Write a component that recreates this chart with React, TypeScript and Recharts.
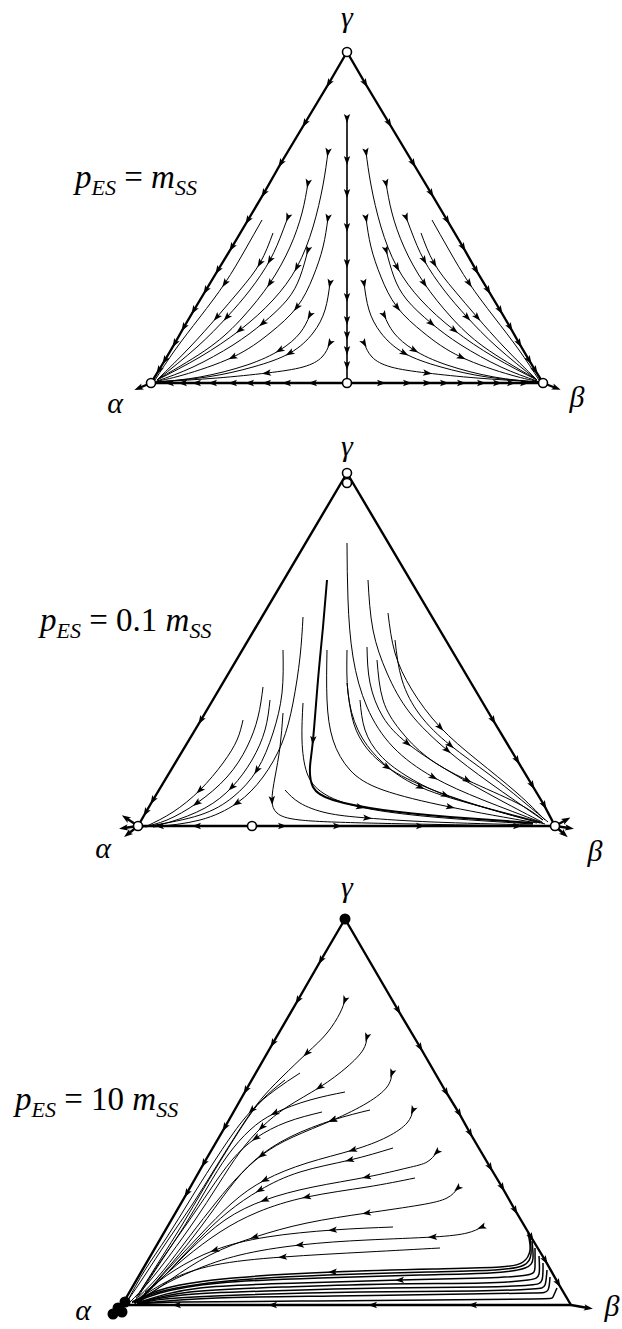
import { ComposedChart, Line, Scatter, XAxis, YAxis } from 'recharts'

type Pt = [number, number]
type Stream = { pts: Pt[]; ar: number[] }

const W = 622
const H = 1329

// ---- panel 1: p_ES = m_SS ----
const p1Edges: Stream[] = [
  { pts: [[347, 52], [329, 83], [305, 123], [281, 163], [264, 193], [248, 220], [232, 247], [218, 270], [206, 290], [194, 310], [184, 327], [175, 343], [165, 360], [159, 370], [151, 383]], ar: [1, 2, 3, 4, 5, 6, 7, 8, 9, 10, 11, 12, 13] },
  { pts: [[347, 52], [365, 83], [389, 123], [413, 163], [431, 193], [447, 220], [463, 247], [476, 270], [488, 290], [500, 310], [510, 327], [519, 343], [529, 360], [535, 370], [543, 383]], ar: [1, 2, 3, 4, 5, 6, 7, 8, 9, 10, 11, 12, 13] },
  { pts: [[347, 383], [313, 383], [287, 383], [267, 383], [250, 383], [233, 383], [213, 383], [197, 383], [183, 383], [170, 383], [151, 383]], ar: [1, 2, 3, 4, 5, 6, 7, 8, 9] },
  { pts: [[347, 383], [381, 383], [407, 383], [427, 383], [444, 383], [461, 383], [481, 383], [497, 383], [511, 383], [524, 383], [543, 383]], ar: [1, 2, 3, 4, 5, 6, 7, 8, 9] },
  { pts: [[151, 383], [139, 388]], ar: [1] },
  { pts: [[543, 383], [556, 388]], ar: [1] },
]

const p1Center: Stream[] = [
  { pts: [[347, 118], [347, 160], [347, 193], [347, 227], [347, 263], [347, 297], [347, 320], [347, 335], [347, 350], [347, 365], [347, 383]], ar: [0, 1, 2, 3, 4, 5, 6, 7, 8, 9] },
]

const p1Left: Stream[] = [
  { pts: [[328, 152], [323, 185], [313, 227], [297, 267], [273, 300], [240, 330], [200, 357], [157, 380]], ar: [0, 3, 5] },
  { pts: [[308, 183], [302, 213], [290, 247], [270, 283], [243, 317], [210, 347], [160, 378]], ar: [0, 3] },
  { pts: [[288, 217], [282, 233], [270, 260], [250, 290], [227, 317], [197, 347], [157, 380]], ar: [0, 2, 4] },
  { pts: [[328, 218], [323, 247], [313, 277], [297, 307], [270, 333], [233, 357], [183, 375], [153, 382]], ar: [0, 3, 5] },
  { pts: [[308, 250], [300, 277], [287, 300], [263, 323], [233, 345], [193, 367], [157, 381]], ar: [0, 3] },
  { pts: [[330, 283], [325, 310], [313, 333], [290, 353], [253, 367], [207, 377], [155, 382]], ar: [0, 3] },
  { pts: [[310, 315], [300, 333], [280, 350], [247, 365], [200, 377], [157, 382]], ar: [0, 2] },
  { pts: [[330, 343], [322, 357], [303, 367], [267, 373], [217, 378], [157, 382]], ar: [0, 3] },
  { pts: [[273, 233], [260, 263], [240, 290], [217, 317], [190, 347], [157, 380]], ar: [1, 3] },
  { pts: [[262, 220], [245, 250], [225, 283], [200, 317], [175, 350], [155, 380]], ar: [2] },
]

const p1Right: Stream[] = [
  { pts: [[366, 152], [371, 185], [381, 227], [397, 267], [421, 300], [454, 330], [494, 357], [537, 380]], ar: [0, 3, 5] },
  { pts: [[386, 183], [392, 213], [404, 247], [424, 283], [451, 317], [484, 347], [534, 378]], ar: [0, 3] },
  { pts: [[406, 217], [412, 233], [424, 260], [444, 290], [467, 317], [497, 347], [537, 380]], ar: [0, 2, 4] },
  { pts: [[366, 218], [371, 247], [381, 277], [397, 307], [424, 333], [461, 357], [511, 375], [541, 382]], ar: [0, 3, 5] },
  { pts: [[386, 250], [394, 277], [407, 300], [431, 323], [461, 345], [501, 367], [537, 381]], ar: [0, 3] },
  { pts: [[364, 283], [369, 310], [381, 333], [404, 353], [441, 367], [487, 377], [539, 382]], ar: [0, 3] },
  { pts: [[384, 315], [394, 333], [414, 350], [447, 365], [494, 377], [537, 382]], ar: [0, 2] },
  { pts: [[364, 343], [372, 357], [391, 367], [427, 373], [477, 378], [537, 382]], ar: [0, 3] },
  { pts: [[421, 233], [434, 263], [454, 290], [477, 317], [504, 347], [537, 380]], ar: [1, 3] },
  { pts: [[432, 220], [449, 250], [469, 283], [494, 317], [519, 350], [539, 380]], ar: [2] },
]

const p1Saddles: Pt[] = [[347, 52], [151, 383], [543, 383], [347, 383]]

// ---- panel 2: p_ES = 0.1 m_SS ----
const p2Edges: Stream[] = [
  { pts: [[347, 473], [201, 720], [153, 800], [146, 812], [138, 826]], ar: [1, 2, 3] },
  { pts: [[347, 473], [493, 720], [517, 760], [532, 785], [544, 805], [555, 826]], ar: [1, 2, 3, 4] },
  { pts: [[252, 826], [197, 826], [160, 826], [138, 826]], ar: [1, 2] },
  { pts: [[252, 826], [282, 826], [337, 826], [420, 826], [517, 826], [555, 826]], ar: [1, 2, 3, 4] },
  { pts: [[138, 826], [126, 818]], ar: [1] },
  { pts: [[138, 826], [124, 828]], ar: [1] },
  { pts: [[138, 826], [128, 834]], ar: [1] },
  { pts: [[555, 826], [566, 820]], ar: [1] },
  { pts: [[555, 826], [569, 828]], ar: [1] },
  { pts: [[555, 826], [564, 834]], ar: [1] },
]

const p2Left: Stream[] = [
  { pts: [[263, 687], [258, 717], [247, 747], [227, 777], [197, 803], [167, 820], [143, 827]], ar: [4] },
  { pts: [[243, 720], [237, 740], [223, 763], [200, 790], [173, 812], [147, 826]], ar: [3] },
  { pts: [[283, 650], [282, 693], [273, 733], [257, 770], [233, 797], [200, 815], [150, 826]], ar: [3] },
  { pts: [[303, 617], [300, 657], [293, 703], [282, 743], [263, 777], [237, 803], [200, 820], [153, 827]], ar: [5] },
  { pts: [[270, 700], [265, 730], [252, 760], [232, 787], [205, 808], [170, 822], [145, 827]], ar: [3] },
]

const p2Right: Stream[] = [
  { pts: [[283, 713], [280, 747], [275, 777], [272, 800], [277, 813], [300, 820], [367, 823], [467, 825], [540, 826]], ar: [3] },
  { pts: [[285, 790], [300, 803], [327, 813], [367, 818], [433, 822], [533, 825]], ar: [3] },
  { pts: [[347, 543], [348, 600], [353, 657], [367, 707], [393, 747], [433, 777], [483, 800], [543, 823]], ar: [5] },
  { pts: [[368, 580], [373, 630], [387, 673], [410, 713], [447, 750], [490, 783], [543, 820]], ar: [4] },
  { pts: [[388, 613], [395, 653], [412, 690], [440, 727], [477, 760], [517, 793], [545, 820]], ar: [3] },
  { pts: [[347, 650], [348, 693], [358, 730], [380, 760], [420, 787], [483, 807], [540, 822]], ar: [4] },
  { pts: [[327, 650], [327, 700], [333, 740], [350, 770], [383, 790], [450, 807], [537, 823]], ar: [5] },
  { pts: [[347, 683], [352, 717], [363, 743], [387, 767], [433, 790], [493, 810], [540, 823]], ar: [3] },
  { pts: [[367, 647], [370, 683], [383, 717], [407, 743], [447, 770], [500, 800], [542, 822]], ar: [3] },
  { pts: [[303, 703], [302, 740], [307, 773], [323, 793], [360, 807], [433, 817], [533, 824]], ar: [4] },
  { pts: [[377, 660], [383, 700], [400, 730], [427, 757], [467, 780], [517, 803], [543, 820]], ar: [4] },
  { pts: [[395, 640], [402, 680], [420, 715], [450, 745], [490, 775], [525, 803], [548, 822]], ar: [3] },
  { pts: [[360, 700], [365, 730], [380, 755], [405, 775], [445, 795], [500, 812], [545, 824]], ar: [4] },
]

// heavy separatrix
const p2Sep: Stream[] = [
  { pts: [[327, 580], [323, 627], [318, 680], [313, 740], [310, 767], [313, 787], [333, 800], [383, 810], [450, 817], [533, 823]], ar: [3] },
]

const p2Saddles: Pt[] = [[347, 473], [347, 483], [138, 826], [252, 826], [555, 826]]

// ---- panel 3: p_ES = 10 m_SS ----
const p3Edges: Stream[] = [
  { pts: [[345, 919], [321, 960], [298, 1000], [273, 1043], [246, 1090], [225, 1127], [204, 1163], [187, 1193], [122, 1305]], ar: [1, 2, 3, 4, 5, 6, 7] },
  { pts: [[345, 919], [398, 1010], [420, 1047], [446, 1092], [459, 1113], [470, 1133], [490, 1167], [502, 1187], [515, 1210], [531, 1237], [545, 1260], [558, 1283], [571, 1305]], ar: [1, 2, 3, 4, 5, 6, 7, 8, 9, 10, 11] },
  { pts: [[571, 1305], [473, 1305], [373, 1305], [273, 1305], [177, 1305], [122, 1305]], ar: [1, 2, 3, 4] },
  { pts: [[571, 1305], [588, 1308]], ar: [1] },
]

const p3Fan: Stream[] = [
  { pts: [[345, 1000], [340, 1013], [327, 1033], [307, 1053], [282, 1077], [258, 1103], [236, 1135], [214, 1170], [192, 1205], [168, 1240], [145, 1275], [128, 1300]], ar: [0, 3] },
  { pts: [[367, 1037], [363, 1050], [347, 1067], [320, 1087], [287, 1107], [262, 1127], [240, 1152], [218, 1185], [195, 1220], [170, 1255], [148, 1283], [130, 1302]], ar: [0, 3, 5] },
  { pts: [[392, 1073], [387, 1087], [367, 1103], [333, 1120], [293, 1137], [262, 1155], [235, 1180], [210, 1210], [183, 1245], [157, 1278], [132, 1303]], ar: [0, 3, 5] },
  { pts: [[413, 1110], [407, 1123], [387, 1137], [353, 1150], [307, 1163], [265, 1180], [232, 1203], [200, 1235], [170, 1267], [140, 1300]], ar: [0, 3, 5] },
  { pts: [[437, 1152], [427, 1162], [407, 1168], [367, 1177], [313, 1187], [265, 1200], [225, 1220], [190, 1250], [160, 1280], [135, 1303]], ar: [0, 3, 5] },
  { pts: [[458, 1188], [447, 1198], [420, 1205], [367, 1213], [307, 1223], [255, 1237], [210, 1255], [170, 1280], [138, 1303]], ar: [0, 3, 5] },
  { pts: [[482, 1227], [467, 1233], [433, 1237], [367, 1240], [300, 1245], [240, 1255], [195, 1270], [160, 1287], [135, 1304]], ar: [0, 2, 4] },
  { pts: [[300, 1073], [275, 1090], [252, 1110], [232, 1135], [212, 1165], [190, 1200], [167, 1237], [145, 1270], [128, 1300]], ar: [2] },
  { pts: [[322, 1112], [287, 1122], [256, 1138], [232, 1160], [210, 1190], [186, 1225], [160, 1262], [136, 1298]], ar: [2] },
  { pts: [[370, 1110], [333, 1120], [290, 1137], [255, 1160], [228, 1190], [200, 1228], [172, 1263], [140, 1300]], ar: [1] },
  { pts: [[393, 1148], [350, 1160], [300, 1172], [260, 1190], [228, 1212], [198, 1240], [168, 1272], [138, 1302]], ar: [1, 3] },
  { pts: [[415, 1178], [367, 1187], [307, 1197], [258, 1212], [220, 1232], [185, 1258], [155, 1284], [134, 1303]], ar: [2] },
  { pts: [[393, 1227], [333, 1230], [267, 1237], [215, 1250], [175, 1270], [145, 1292]], ar: [1, 3] },
  { pts: [[440, 1248], [367, 1252], [283, 1257], [215, 1265], [170, 1280], [140, 1298]], ar: [2] },
  { pts: [[285, 1080], [262, 1100], [243, 1125], [224, 1155], [204, 1188], [182, 1225], [160, 1260], [138, 1295]], ar: [] },
  { pts: [[345, 1092], [310, 1100], [275, 1113], [250, 1130], [228, 1155], [207, 1188], [185, 1225], [162, 1260], [138, 1297]], ar: [2] },
]

const p3Bottom: Stream[] = [
  { pts: [[528, 1233], [530, 1250], [523, 1262], [500, 1267], [433, 1269], [333, 1272], [233, 1278], [167, 1288], [132, 1302]], ar: [5] },
  { pts: [[530, 1237], [531, 1254], [524, 1265], [495, 1270], [428, 1272], [328, 1275], [228, 1281], [163, 1291], [133, 1302]], ar: [] },
  { pts: [[532, 1241], [533, 1258], [525, 1268], [490, 1273], [420, 1275], [320, 1278], [220, 1283], [160, 1293], [134, 1303]], ar: [] },
  { pts: [[535, 1248], [535, 1267], [527, 1275], [483, 1278], [400, 1280], [300, 1283], [200, 1288], [140, 1302]], ar: [4] },
  { pts: [[539, 1256], [539, 1274], [528, 1280], [483, 1283], [390, 1284], [285, 1287], [190, 1292], [138, 1303]], ar: [] },
  { pts: [[543, 1263], [542, 1280], [530, 1285], [483, 1287], [383, 1288], [267, 1291], [183, 1295], [137, 1303]], ar: [] },
  { pts: [[547, 1270], [545, 1285], [532, 1289], [475, 1291], [360, 1292], [240, 1295], [165, 1299], [138, 1304]], ar: [] },
  { pts: [[550, 1277], [548, 1290], [533, 1293], [467, 1294], [333, 1296], [217, 1298], [143, 1303]], ar: [] },
  { pts: [[557, 1288], [553, 1297], [533, 1299], [433, 1300], [300, 1301], [183, 1302], [137, 1304]], ar: [] },
]

const p3Stable: Pt[] = [[345, 919]]
const p3Blob: Pt[] = [[118, 1308], [113, 1314], [125, 1302], [122, 1312]]

type Group = { lines: Stream[]; w: number; curve: 'linear' | 'natural' }

const groups: Group[] = [
  { lines: p1Edges, w: 2.4, curve: 'linear' },
  { lines: p1Center, w: 1.6, curve: 'linear' },
  { lines: p1Left, w: 1, curve: 'natural' },
  { lines: p1Right, w: 1, curve: 'natural' },
  { lines: p2Edges, w: 2.4, curve: 'linear' },
  { lines: p2Left, w: 1, curve: 'natural' },
  { lines: p2Right, w: 1, curve: 'natural' },
  { lines: p2Sep, w: 2, curve: 'natural' },
  { lines: p3Edges, w: 2.4, curve: 'linear' },
  { lines: p3Fan, w: 1, curve: 'natural' },
  { lines: p3Bottom, w: 1.5, curve: 'natural' },
]

function arrowsOf(lines: Stream[]) {
  return lines.flatMap((s) =>
    s.ar.map((i) => {
      const a = s.pts[Math.max(0, i - 1)]
      const b = s.pts[Math.min(s.pts.length - 1, i + 1)]
      return {
        x: s.pts[i][0],
        y: s.pts[i][1],
        a: (Math.atan2(b[1] - a[1], b[0] - a[0]) * 180) / Math.PI,
      }
    }),
  )
}

function ArrowHead(props: any) {
  const { cx, cy, payload } = props
  if (cx == null || cy == null) return <g />
  return (
    <polygon
      points="5,0 -4,-3.2 -2,0 -4,3.2"
      fill="#000"
      transform={`translate(${cx},${cy}) rotate(${payload.a})`}
    />
  )
}

function OpenDot(props: any) {
  const { cx, cy } = props
  if (cx == null) return <g />
  return <circle cx={cx} cy={cy} r={4.5} fill="#fff" stroke="#000" strokeWidth={1.6} />
}

function FilledDot(props: any) {
  const { cx, cy } = props
  if (cx == null) return <g />
  return <circle cx={cx} cy={cy} r={5.5} fill="#000" />
}

const toXY = (pts: Pt[]) => pts.map(([x, y]) => ({ x, y }))

const fontFamily = '"Liberation Serif", "DejaVu Serif", serif'

function Ratio({ x, y, mid }: { x: number; y: number; mid: string }) {
  return (
    <text x={x} y={y} fontSize={33} fontFamily={fontFamily} fill="#000">
      <tspan fontStyle="italic">p</tspan>
      <tspan fontSize={22} fontStyle="italic" dy={7}>ES</tspan>
      <tspan dy={-7}>{' = '}{mid}</tspan>
      <tspan fontStyle="italic">m</tspan>
      <tspan fontSize={22} fontStyle="italic" dy={7}>SS</tspan>
    </text>
  )
}

function Greek({ x, y, t }: { x: number; y: number; t: string }) {
  return (
    <text x={x} y={y} fontSize={30} fontStyle="italic" fontFamily={fontFamily} textAnchor="middle" fill="#000">
      {t}
    </text>
  )
}

export default function App() {
  const arrows = groups.flatMap((g) => arrowsOf(g.lines))
  return (
    <div style={{ position: 'absolute', left: 0, top: 0, width: W, height: H, background: '#fff' }}>
      <ComposedChart width={W} height={H} margin={{ top: 0, right: 0, bottom: 0, left: 0 }}>
        <XAxis type="number" dataKey="x" domain={[0, W]} hide allowDataOverflow />
        <YAxis type="number" dataKey="y" domain={[0, H]} reversed hide allowDataOverflow />
        {groups.flatMap((g, gi) =>
          g.lines.map((s, k) => (
            <Line
              key={`l-${gi}-${k}`}
              data={toXY(s.pts)}
              dataKey="y"
              type={g.curve}
              stroke="#000"
              strokeWidth={g.w}
              dot={false}
              activeDot={false}
              isAnimationActive={false}
            />
          )),
        )}
        <Scatter data={arrows} shape={ArrowHead} isAnimationActive={false} />
        <Scatter data={toXY(p3Blob)} shape={FilledDot} isAnimationActive={false} />
        <Scatter data={toXY(p3Stable)} shape={FilledDot} isAnimationActive={false} />
        <Scatter data={toXY([...p1Saddles, ...p2Saddles])} shape={OpenDot} isAnimationActive={false} />
      </ComposedChart>
      <svg width={W} height={H} style={{ position: 'absolute', left: 0, top: 0, pointerEvents: 'none' }}>
        <Greek x={347} y={27} t="γ" />
        <Greek x={115} y={413} t="α" />
        <Greek x={577} y={407} t="β" />
        <Ratio x={75} y={188} mid="" />
        <Greek x={347} y={456} t="γ" />
        <Greek x={103} y={858} t="α" />
        <Greek x={595} y={861} t="β" />
        <Ratio x={40} y={631} mid="0.1 " />
        <Greek x={347} y={897} t="γ" />
        <Greek x={83} y={1320} t="α" />
        <Greek x={612} y={1316} t="β" />
        <Ratio x={15} y={1110} mid="10 " />
      </svg>
    </div>
  )
}
